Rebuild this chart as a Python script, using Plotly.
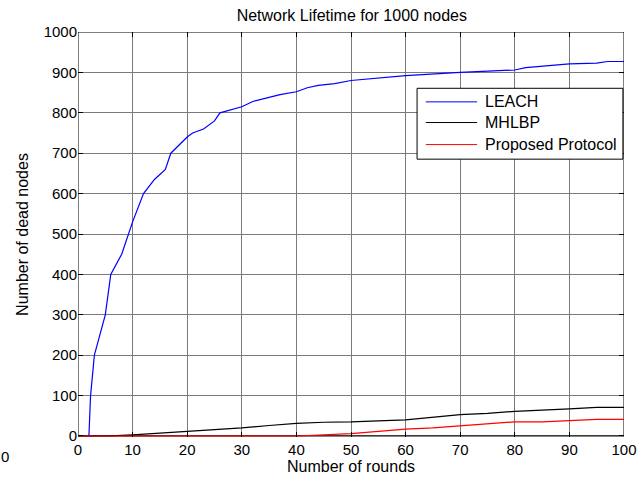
import plotly.graph_objects as go

# Dead-node counts per protocol (rounds on x, dead nodes on y)
leach_rounds = [2, 2.3, 3, 5, 6, 8, 10, 12, 14, 16, 17, 20, 21, 23, 25, 26, 30, 32,
                35, 37, 40, 42, 44, 47, 50, 60, 70, 80, 82, 88, 90, 95, 97, 100]
leach_dead = [0, 100, 200, 300, 400, 450, 530, 600, 635, 660, 700, 740, 750, 760,
              780, 800, 815, 828, 838, 845, 852, 862, 868, 872, 880, 892, 900, 906,
              912, 920, 921, 923, 927, 927]

mhlbp_rounds = [0, 5, 10, 15, 20, 30, 35, 40, 45, 50, 60, 70, 75, 80, 90, 95, 100]
mhlbp_dead = [0, 0, 3, 7, 12, 20, 26, 31, 34, 35, 40, 53, 56, 61, 67, 71, 71]

prop_rounds = [0, 40, 50, 60, 65, 70, 75, 80, 85, 90, 95, 100]
prop_dead = [0, 0, 6, 17, 20, 25, 31, 35, 35, 38, 41, 41]

series_names = ["LEACH", "MHLBP", "Proposed Protocol"]
series_colors = ["#0000ff", "#000000", "#ff0000"]

x_ticks = list(range(0, 101, 10))
y_ticks = list(range(0, 1001, 100))

FONT = "Liberation Sans, Arial, Helvetica, sans-serif"

fig = go.Figure()
for name, color, xs, ys in zip(series_names, series_colors,
                               [leach_rounds, mhlbp_rounds, prop_rounds],
                               [leach_dead, mhlbp_dead, prop_dead]):
    fig.add_trace(go.Scatter(x=xs, y=ys, mode="lines", name=name,
                             line=dict(color=color, width=1.2), showlegend=False))

axis_common = dict(
    showline=False, mirror="ticks",
    ticks="inside", ticklen=5, tickcolor="black", tickwidth=1,
    showgrid=True, gridcolor="#7a7a7a", gridwidth=1, zeroline=False,
    tickfont=dict(family=FONT, size=15, color="black"),
    automargin=False,
)

fig.update_layout(
    width=642, height=481,
    margin=dict(l=78, r=18, t=32, b=44, autoexpand=False),
    paper_bgcolor="white", plot_bgcolor="white",
    title=dict(text="Network Lifetime for 1000 nodes", x=0.548, xanchor="center",
               y=1 - 15 / 481, yanchor="middle", automargin=False,
               font=dict(family=FONT, size=16, color="black")),
    xaxis=dict(range=[0, 100], tickvals=x_ticks, ticklabelstandoff=2,
               title=dict(text="Number of rounds", standoff=3,
                          font=dict(family=FONT, size=16, color="black")),
               **axis_common),
    # lower bound just under zero keeps the lines along y=0 fully inside the axes
    yaxis=dict(range=[-2.5, 1000], tickvals=y_ticks,
               title=dict(text="Number of dead nodes", standoff=11,
                          font=dict(family=FONT, size=16, color="black")),
               **axis_common),
    showlegend=False,
)

# Axes frame: above the grid, beneath the curves so the y=0 segments sit on it
fig.add_shape(type="rect", xref="x", yref="y", x0=0, x1=100, y0=0, y1=1000,
              line=dict(color="black", width=1), fillcolor="rgba(0,0,0,0)",
              layer="between")

# Boxed legend in the upper right of the axes
lx0, lx1, ly0, ly1 = 0.621, 0.998, 0.686, 0.861
fig.add_shape(type="rect", xref="paper", yref="paper", x0=lx0, x1=lx1, y0=ly0, y1=ly1,
              line=dict(color="black", width=1), fillcolor="white", layer="above")
row_y = [0.8275, 0.7765, 0.722]
for name, color, ry in zip(series_names, series_colors, row_y):
    fig.add_shape(type="line", xref="paper", yref="paper", x0=0.637, x1=0.731,
                  y0=ry, y1=ry, line=dict(color=color, width=1), layer="above")
    fig.add_annotation(xref="paper", yref="paper", x=0.7418, y=ry, text=name,
                       showarrow=False, xanchor="left", yanchor="middle",
                       font=dict(family=FONT, size=16, color="black"))

# Lone tick label left of the origin
fig.add_annotation(xref="paper", yref="paper", x=-0.1337, y=-0.047, text="0",
                   showarrow=False, xanchor="center", yanchor="middle",
                   font=dict(family=FONT, size=15, color="black"))

fig.write_html("out.html")
